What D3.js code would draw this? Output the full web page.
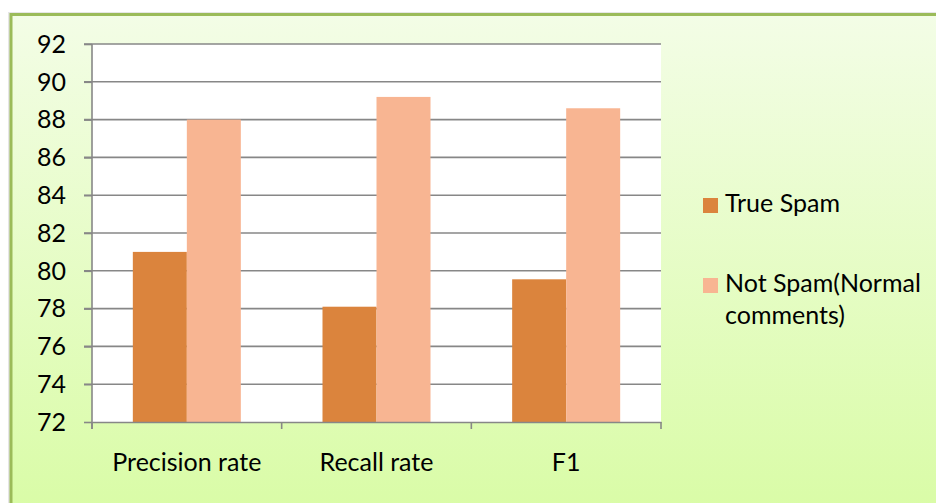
<!DOCTYPE html>
<html><head><meta charset="utf-8">
<script src="https://cdn.jsdelivr.net/npm/d3@7"></script>
<style>
html,body{margin:0;padding:0;background:#fff;}
svg{display:block;}
text{font-family:Lato, "Open Sans", sans-serif;fill:#000;}
</style></head>
<body>
<svg id="chart" width="936" height="503"></svg>
<script>
const categories = ["Precision rate", "Recall rate", "F1"];
const seriesNames = ["True Spam", "Not Spam(Normal comments)"];
const trueSpam = [81, 78.1, 79.55];
const notSpam = [88, 89.2, 88.6];
const yTicks = [72, 74, 76, 78, 80, 82, 84, 86, 88, 90, 92];
const colors = ["#DB843D", "#F8B592"];

(function(){
const FS = 25;
const svg = d3.select("#chart");
const defs = svg.append("defs");
const grad = defs.append("linearGradient").attr("id","bg").attr("x1",0).attr("y1",0).attr("x2",0).attr("y2",1);
grad.append("stop").attr("offset","0%").attr("stop-color","#F3FDE6");
grad.append("stop").attr("offset","100%").attr("stop-color","#D9FCA6");

// shadow + frame
svg.append("rect").attr("x",8).attr("y",12).attr("width",940).attr("height",500).attr("fill","#e6e6e6");
svg.append("rect").attr("x",11).attr("y",14.5).attr("width",940).attr("height",500)
  .attr("fill","url(#bg)").attr("stroke","#9BBB59").attr("stroke-width",3);

const pL = 92, pR = 661, pT = 44, pB = 422;
const y = d3.scaleLinear().domain([72, 92]).range([pB, pT]);
const x0 = d3.scaleBand().domain(categories).range([pL, pR]).padding(0);
const x1 = d3.scaleBand().domain(seriesNames).range([0, x0.bandwidth()]).paddingInner(0).paddingOuter(0.756);

svg.append("rect").attr("x",pL).attr("y",pT).attr("width",pR-pL).attr("height",pB-pT).attr("fill","#fff");

// gridlines
svg.append("g").selectAll("line").data(yTicks.filter(d=>d>72)).join("line")
  .attr("x1",pL-8).attr("x2",pR).attr("y1",d=>y(d)).attr("y2",d=>y(d))
  .attr("stroke","#878787").attr("stroke-width",1.6);

// bars
const data = categories.map((c,i)=>({cat:c, vals:[trueSpam[i], notSpam[i]]}));
const g = svg.append("g");
data.forEach(d=>{
  g.append("g").selectAll("rect").data(d.vals.map((v,j)=>({s:seriesNames[j], v, j}))).join("rect")
    .attr("x",e=>x0(d.cat)+x1(e.s)).attr("width",x1.bandwidth())
    .attr("y",e=>y(e.v)).attr("height",e=>y(72)-y(e.v))
    .attr("fill",e=>colors[e.j]);
});

// y axis
const yAxis = d3.axisLeft(y).tickValues(yTicks).tickSize(8).tickPadding(18).tickFormat(d3.format("d"));
const ya = svg.append("g").attr("transform",`translate(${pL},0)`).call(yAxis);
ya.select(".domain").attr("stroke","#878787").attr("stroke-width",1.6).attr("d",`M0,${pT}V${pB+7}`);
ya.selectAll(".tick line").attr("stroke","#878787").attr("stroke-width",1.6);
ya.selectAll(".tick text").attr("font-size",FS).attr("font-family","Lato").attr("fill","#000").attr("dy","0.33em");

// x axis
const xAxis = d3.axisBottom(x0).tickSize(0).tickPadding(0);
const xa = svg.append("g").attr("transform",`translate(0,${pB})`).call(xAxis);
xa.select(".domain").attr("stroke","#878787").attr("stroke-width",1.6);
xa.selectAll(".tick text").attr("font-size",FS).attr("font-family","Lato").attr("fill","#000").attr("y",49).attr("dy",0);
// category boundary ticks
svg.append("g").selectAll("line").data(categories.map(c=>x0(c)).concat([x0(categories[categories.length-1])+x0.bandwidth()])).join("line")
  .attr("x1",d=>d).attr("x2",d=>d).attr("y1",pB).attr("y2",pB+7)
  .attr("stroke","#878787").attr("stroke-width",1.6);

// legend
const leg = svg.append("g");
const legItems = [{lines:["True Spam"], y:198},{lines:["Not Spam(Normal","comments)"], y:278}];
legItems.forEach((it,i)=>{
  leg.append("rect").attr("x",703).attr("y",it.y).attr("width",15).attr("height",15).attr("fill",colors[i]);
  const t = leg.append("text").attr("x",725).attr("y",it.y+14).attr("font-size",FS).attr("font-family","Lato");
  it.lines.forEach((l,k)=>t.append("tspan").attr("x",725).attr("dy",k?32:0).text(l));
});
})();
</script>
</body></html>
